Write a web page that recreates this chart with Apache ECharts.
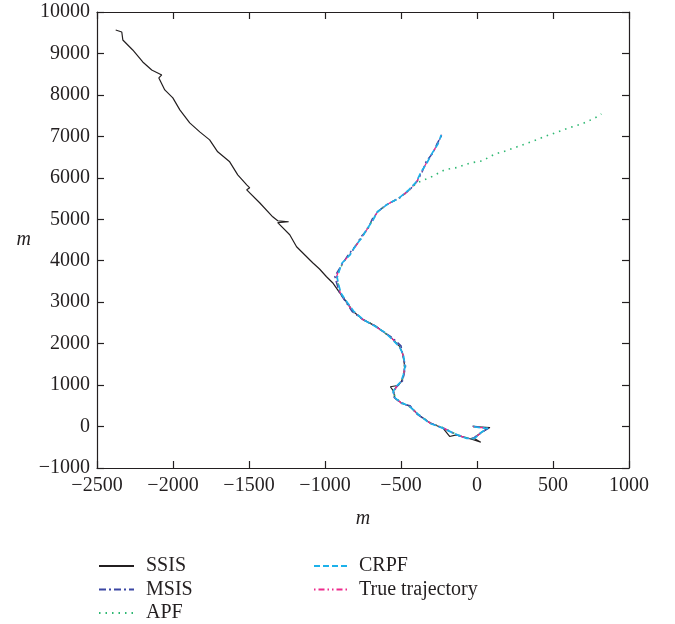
<!DOCTYPE html>
<html>
<head>
<meta charset="utf-8">
<script src="https://cdn.jsdelivr.net/npm/echarts@6/dist/echarts.min.js"></script>
<style>html,body{margin:0;padding:0;background:#fff}#c{width:675px;height:624px}</style>
</head>
<body>
<div id="c"></div>
<script>
// ---- data ----
const seriesNames = ['SSIS', 'MSIS', 'APF', 'CRPF', 'True trajectory'];
const xRange = [-2500, 1000];
const yRange = [-1000, 10000];
const xStep = 500;
const yStep = 1000;

const trueTrajectory = [
  [-25,0],[70,-45],[30,-145],[-15,-265],[-40,-300],[-70,-275],[-136,-195],[-224,-30],[-311,90],
  [-388,290],[-443,490],[-497,570],[-541,690],[-548,850],[-525,985],[-497,1090],[-482,1250],
  [-476,1450],[-487,1735],[-509,1935],[-563,2140],[-607,2260],[-673,2435],[-750,2580],[-816,2780],
  [-870,3060],[-900,3230],[-917,3470],[-925,3600],[-915,3710],[-884,3950],[-838,4145],[-792,4385],
  [-760,4560],[-726,4745],[-686,4990],[-654,5180],[-595,5350],[-509,5520],[-443,5710],[-397,5905],
  [-364,6145],[-330,6380],[-292,6600],[-260,6820],[-232,7040]
];
const msisTrack = [
  [-30,10],[75,-40],[25,-150],[-20,-270],[-45,-305],[-75,-280],[-140,-190],[-220,-40],[-305,80],
  [-395,300],[-440,500],[-500,560],[-545,700],[-552,860],[-520,990],[-490,1100],[-480,1260],
  [-470,1460],[-490,1740],[-500,1950],[-560,2150],[-610,2270],[-670,2430],[-755,2590],[-820,2770],
  [-875,3070],[-905,3240],[-925,3480],[-935,3620],[-920,3720],[-880,3960],[-845,4150],[-790,4400],
  [-765,4570],[-720,4750],[-690,5000],[-650,5190],[-600,5340],[-505,5530],[-440,5720],[-395,5910],
  [-360,6150],[-335,6390],[-288,6610],[-262,6830],[-228,7050]
];
const apfTrack = [
  [-25,5],[70,-40],[30,-140],[-15,-260],[-40,-300],[-70,-270],[-135,-190],[-225,-25],[-310,95],
  [-385,295],[-445,485],[-495,575],[-540,695],[-545,855],[-525,980],[-495,1095],[-480,1245],
  [-478,1455],[-485,1730],[-510,1930],[-565,2145],[-605,2255],[-675,2440],[-748,2585],[-818,2785],
  [-868,3065],[-902,3235],[-915,3475],[-922,3605],[-912,3715],[-882,3955],[-840,4140],[-795,4380],
  [-758,4565],[-728,4740],[-684,4995],[-652,5185],[-597,5345],[-506,5525],[-445,5705],[-399,5872],
  [-296,6031],[-213,6193],[-132,6248],[-48,6354],[35,6410],[116,6571],[197,6658],[281,6771],
  [364,6875],[445,6996],[526,7101],[610,7212],[691,7301],[774,7439],[818,7542]
];
const crpfTrack = [
  [-20,-5],[72,-50],[28,-140],[-10,-270],[-35,-295],[-72,-280],[-130,-200],[-228,-35],[-315,85],
  [-384,285],[-446,495],[-493,565],[-538,685],[-552,845],[-528,980],[-500,1085],[-485,1245],
  [-473,1445],[-484,1730],[-512,1930],[-566,2135],[-604,2265],[-676,2430],[-747,2575],[-812,2785],
  [-866,3055],[-896,3225],[-913,3465],[-920,3595],[-911,3705],[-888,3945],[-835,4140],[-796,4380],
  [-757,4555],[-729,4740],[-683,4985],[-657,5175],[-592,5355],[-512,5515],[-447,5715],[-400,5900],
  [-368,6140],[-327,6375],[-295,6595],[-257,6815],[-235,7035]
];
const ssisTrack = [
  [-25,0],[85,-25],[30,-140],[-20,-280],[25,-380],[-40,-300],[-136,-200],[-180,-240],[-224,-40],
  [-311,90],[-388,290],[-443,490],[-497,570],[-541,690],[-548,850],[-570,960],[-520,990],
  [-497,1090],[-482,1250],[-476,1450],[-487,1735],[-509,1935],[-563,2140],[-607,2260],[-673,2435],
  [-750,2580],[-816,2780],[-870,3060],[-904,3230],[-950,3470],[-990,3614],[-1036,3800],[-1081,3952],
  [-1187,4337],[-1232,4627],[-1311,4920],[-1239,4940],[-1311,4964],[-1344,5060],[-1430,5398],
  [-1515,5711],[-1495,5759],[-1515,5831],[-1574,6072],[-1627,6386],[-1706,6627],[-1759,6916],
  [-1824,7108],[-1890,7325],[-1955,7639],[-2001,7928],[-2054,8120],[-2093,8410],[-2074,8482],
  [-2140,8602],[-2199,8795],[-2265,9084],[-2330,9325],[-2337,9518],[-2377,9566]
];

// ---- styles ----
const FONT = 'Liberation Serif';
const AX = '#231f20';
const minusFmt = v => String(v).replace('-', '\u2212');
const styles = {
  'SSIS': {color: '#231f20', type: 'solid', width: 1.2},
  'MSIS': {color: '#3b47a3', type: [7, 3, 2, 3], width: 1.5},
  'APF': {color: '#2eb872', type: [1.5, 5], width: 1.6},
  'CRPF': {color: '#1cb1ea', type: [6, 3], width: 1.7},
  'True trajectory': {color: '#ee2a8c', type: [1.5, 3, 6, 3, 1.5, 3], width: 1.3}
};
const zOrder = {'SSIS': 2, 'MSIS': 3, 'APF': 4, 'True trajectory': 5, 'CRPF': 6};
const dataMap = {
  'SSIS': ssisTrack, 'MSIS': msisTrack, 'APF': apfTrack, 'CRPF': crpfTrack, 'True trajectory': trueTrajectory
};

const grid = {left: 97, top: 12, width: 532, height: 456};
function axisBase(extra) {
  return Object.assign({
    type: 'value',
    axisLine: {show: true, onZero: false, lineStyle: {color: AX, width: 1.2}},
    axisTick: {show: true, inside: true, length: 7, lineStyle: {color: AX, width: 1.2}},
    splitLine: {show: false},
    axisLabel: {show: false}
  }, extra);
}
const legendBase = {
  orient: 'vertical', top: 556, padding: 0,
  itemWidth: 35, itemHeight: 20, itemGap: 3.5,
  itemStyle: {opacity: 0},
  textStyle: {fontFamily: FONT, fontSize: 20, color: AX, padding: [0, 0, 0, 7]}
};

const option = {
  animation: false,
  backgroundColor: '#fff',
  grid: grid,
  xAxis: [
    axisBase({min: xRange[0], max: xRange[1], interval: xStep, position: 'bottom',
      axisLabel: {show: true, formatter: minusFmt, fontFamily: FONT, fontSize: 20, color: AX, margin: 8},
      name: 'm', nameLocation: 'middle', nameGap: 41,
      nameTextStyle: {fontFamily: FONT, fontStyle: 'italic', fontSize: 20, color: AX}}),
    axisBase({min: xRange[0], max: xRange[1], interval: xStep, position: 'top'})
  ],
  yAxis: [
    axisBase({min: yRange[0], max: yRange[1], interval: yStep, position: 'left',
      axisLabel: {show: true, formatter: minusFmt, fontFamily: FONT, fontSize: 20, color: AX, margin: 7},
      name: 'm', nameLocation: 'middle', nameGap: 66, nameRotate: 0,
      nameTextStyle: {fontFamily: FONT, fontStyle: 'italic', fontSize: 20, color: AX, padding: [6, 0, 0, 0]}}),
    axisBase({min: yRange[0], max: yRange[1], interval: yStep, position: 'right'})
  ],
  legend: [
    Object.assign({}, legendBase, {data: ['SSIS', 'MSIS', 'APF'], left: 98}),
    Object.assign({}, legendBase, {data: ['CRPF', 'True trajectory'], left: 313,
      textStyle: Object.assign({}, legendBase.textStyle, {padding: [0, 0, 0, 5]})})
  ],
  series: seriesNames.map(n => ({
    name: n, type: 'line', data: dataMap[n], showSymbol: false, symbol: 'none',
    xAxisIndex: 0, yAxisIndex: 0,
    lineStyle: styles[n], itemStyle: {color: styles[n].color},
    z: zOrder[n]
  }))
};
const chart = echarts.init(document.getElementById('c'), null, {renderer: 'canvas'});
chart.setOption(option);
</script>
</body>
</html>
